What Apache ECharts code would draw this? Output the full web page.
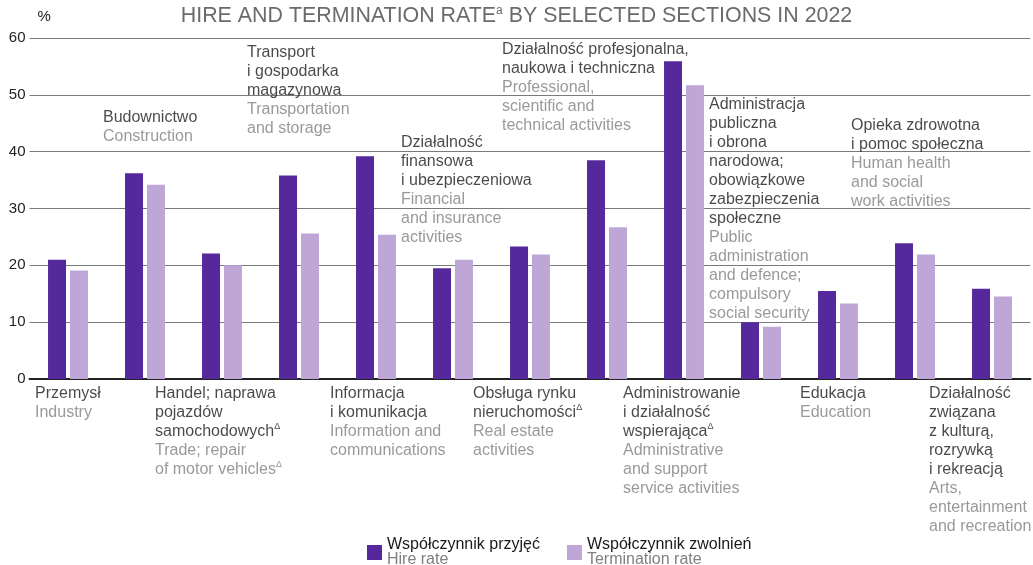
<!DOCTYPE html>
<html>
<head>
<meta charset="utf-8">
<script src="https://cdn.jsdelivr.net/npm/echarts@6/dist/echarts.min.js"></script>
<style>
  html, body { margin: 0; padding: 0; background: #fff; }
  #main { width: 1033px; height: 565px; }
</style>
</head>
<body>
<div id="main"></div>
<script>
const categories = ['Przemysł', 'Budownictwo', 'Handel', 'Transport', 'Informacja', 'Finanse',
  'Nieruchomości', 'Profesjonalna', 'Administrowanie', 'Administracja publiczna',
  'Edukacja', 'Opieka zdrowotna', 'Kultura'];
const hireRate = [21.0, 36.2, 22.1, 35.8, 39.2, 19.5, 23.3, 38.5, 55.9, 10.0, 15.5, 23.9, 15.9];
const terminationRate = [19.1, 34.2, 20.0, 25.6, 25.4, 21.0, 21.9, 26.7, 51.7, 9.2, 13.3, 21.9, 14.5];
const yTicks = [0, 10, 20, 30, 40, 50, 60];

// '^' at the end of a line = superscript delta
const labelPl = [
  ['Przemysł'],
  ['Budownictwo'],
  ['Handel; naprawa', 'pojazdów', 'samochodowych^'],
  ['Transport', 'i gospodarka', 'magazynowa'],
  ['Informacja', 'i komunikacja'],
  ['Działalność', 'finansowa', 'i ubezpieczeniowa'],
  ['Obsługa rynku', 'nieruchomości^'],
  ['Działalność profesjonalna,', 'naukowa i techniczna'],
  ['Administrowanie', 'i działalność', 'wspierająca^'],
  ['Administracja', 'publiczna', 'i obrona', 'narodowa;', 'obowiązkowe', 'zabezpieczenia', 'społeczne'],
  ['Edukacja'],
  ['Opieka zdrowotna', 'i pomoc społeczna'],
  ['Działalność', 'związana', 'z kulturą,', 'rozrywką', 'i rekreacją']
];
const labelEn = [
  ['Industry'],
  ['Construction'],
  ['Trade; repair', 'of motor vehicles^'],
  ['Transportation', 'and storage'],
  ['Information and', 'communications'],
  ['Financial', 'and insurance', 'activities'],
  ['Real estate', 'activities'],
  ['Professional,', 'scientific and', 'technical activities'],
  ['Administrative', 'and support', 'service activities'],
  ['Public', 'administration', 'and defence;', 'compulsory', 'social security'],
  ['Education'],
  ['Human health', 'and social', 'work activities'],
  ['Arts,', 'entertainment', 'and recreation']
];

// label placement: [x offset px from category centre, anchor value on y axis, y offset px]
const labelLayout = [
  [-33, 0, 5], [-42, 47.7, 0], [-67, 0, 5], [-52, 59.1, 0], [-46, 0, 5], [-52, 43.3, 0],
  [-57, 0, 5], [-105, 59.6, 0], [-61, 0, 5], [-52, 50.0, 0], [-38, 0, 5], [-64, 46.3, 0],
  [-63, 0, 5]
];

const FONT = '"Liberation Sans", Arial, sans-serif';
const DARK = '#55299b';
const LIGHT = '#bea7d7';

function line(s, st) {
  if (s.endsWith('^')) return '{' + st + '|' + s.slice(0, -1) + '}{' + st + 'Sup|Δ}';
  return '{' + st + '|' + s + '}';
}

const labelData = categories.map((c, i) => ({
  value: [i, labelLayout[i][1]],
  label: { position: [labelLayout[i][0], labelLayout[i][2]] }
}));

const chart = echarts.init(document.getElementById('main'));

chart.setOption({
  animation: false,
  textStyle: { fontFamily: FONT },
  title: {
    text: '{t|HIRE AND TERMINATION RATE}{s|a}{t| BY SELECTED SECTIONS IN 2022}',
    left: 'center',
    top: 0,
    textStyle: {
      fontWeight: 'normal',
      rich: {
        t: { fontSize: 21.4, color: '#6b6b6b', fontWeight: 'normal', fontFamily: FONT, lineHeight: 23 },
        s: { fontSize: 12, color: '#6b6b6b', fontWeight: 'normal', fontFamily: FONT, lineHeight: 13, verticalAlign: 'top' }
      }
    }
  },
  legend: {
    data: ['Współczynnik przyjęć', 'Współczynnik zwolnień'],
    left: 367,
    top: 537,
    padding: 0,
    itemWidth: 15,
    itemHeight: 15,
    itemGap: 27,
    icon: 'rect',
    formatter: function (name) {
      const en = name === 'Współczynnik przyjęć' ? 'Hire rate' : 'Termination rate';
      return '{a|' + name + '}\n{b|' + en + '}';
    },
    textStyle: {
      rich: {
        a: { fontSize: 16, color: '#1a1a1a', lineHeight: 15, fontFamily: FONT },
        b: { fontSize: 16, color: '#7f7f7f', lineHeight: 15, fontFamily: FONT }
      }
    }
  },
  grid: { left: 29.5, right: 2.5, top: 38, height: 341 },
  xAxis: {
    type: 'category',
    data: categories,
    axisLine: { lineStyle: { color: '#222', width: 2 } },
    axisTick: { show: false },
    axisLabel: { show: false }
  },
  yAxis: {
    type: 'value',
    min: yTicks[0],
    max: yTicks[yTicks.length - 1],
    interval: 10,
    name: '%',
    nameGap: 14,
    nameTextStyle: { fontSize: 15, color: '#222', align: 'left', padding: [0, 0, 0, 8] },
    axisLine: { show: false },
    axisTick: { show: false },
    axisLabel: { fontSize: 15, color: '#222', margin: 4 },
    splitLine: { lineStyle: { color: '#7a7a7a', width: 1 } }
  },
  series: [
    {
      name: 'Współczynnik przyjęć',
      type: 'bar',
      data: hireRate,
      barWidth: 18,
      barGap: '22%',
      itemStyle: { color: DARK }
    },
    {
      name: 'Współczynnik zwolnień',
      type: 'bar',
      data: terminationRate,
      barWidth: 18,
      itemStyle: { color: LIGHT }
    },
    {
      type: 'scatter',
      data: labelData,
      symbolSize: 0,
      clip: false,
      silent: true,
      z: 5,
      label: {
        show: true,
        align: 'left',
        verticalAlign: 'top',
        formatter: function (p) {
          const i = p.value[0];
          return labelPl[i].map(s => line(s, 'pl'))
            .concat(labelEn[i].map(s => line(s, 'en'))).join('\n');
        },
        rich: {
          pl: { fontSize: 16, color: '#1a1a1a', lineHeight: 19, fontFamily: FONT },
          en: { fontSize: 16, color: '#7f7f7f', lineHeight: 19, fontFamily: FONT },
          plSup: { fontSize: 9, color: '#1a1a1a', lineHeight: 10, verticalAlign: 'top', fontFamily: FONT },
          enSup: { fontSize: 9, color: '#7f7f7f', lineHeight: 10, verticalAlign: 'top', fontFamily: FONT }
        }
      }
    }
  ]
});
</script>
</body>
</html>
